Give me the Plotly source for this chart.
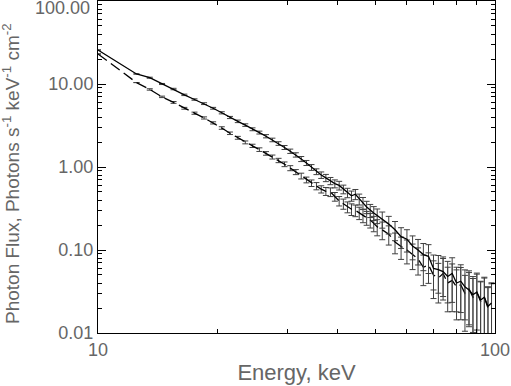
import plotly.graph_objs as graph_objs

# energy bins (keV)
energy = [10, 12.5,
          13.5, 14.5, 15.5, 16.5, 17.5, 18.5, 19.5, 20.5, 21.5, 22.5,
          23.5, 24.5, 25.5, 26.5, 27.5, 28.5, 29.5, 30.5, 31.5, 32.5,
          33.5, 34.5, 35.5, 36.5, 37.5, 38.5, 39.5, 40.5, 41.5, 42.5,
          43.5, 44.5, 45.5, 46.5, 47.5, 48.5, 49.5, 50.5,
          52, 54, 56, 58, 60, 62, 64, 66, 68, 70, 72, 74,
          76, 78, 80, 82, 84, 86, 88, 90, 92, 94, 96, 98]

# solid spectrum (photons s^-1 keV^-1 cm^-2)
flux_a = [25.7, 13.2,
          11.9, 10.0, 8.7, 7.4, 6.5, 5.8, 5.1, 4.5, 3.95, 3.55,
          3.2, 2.85, 2.6, 2.35, 2.12, 1.92, 1.72, 1.55, 1.40, 1.25,
          1.12, 0.99, 0.88, 0.80, 0.74, 0.68, 0.63, 0.60, 0.54, 0.49,
          0.45, 0.47, 0.41, 0.37, 0.33, 0.30, 0.28, 0.26,
          0.235, 0.205, 0.175, 0.145, 0.135, 0.112, 0.100, 0.088, 0.084, 0.060, 0.058, 0.055,
          0.048, 0.052, 0.040, 0.042, 0.036, 0.033, 0.029, 0.031, 0.025, 0.027, 0.021, 0.023]
err_a_pct = [0, 0,
             1.5, 1.5, 2, 2, 2, 2.5, 2.5, 3, 3, 3.5,
             3.5, 4, 4, 4.5, 5, 5, 5.5, 6, 6, 7,
             7, 8, 8, 9, 10, 10, 11, 12, 12, 13,
             14, 14, 15, 16, 17, 18, 19, 20,
             22, 24, 26, 28, 30, 32, 34, 36, 38, 45, 48, 50,
             52, 55, 55, 58, 60, 62, 65, 65, 68, 70, 72, 75]

# dashed spectrum
flux_b = [23.0, 10.4,
          8.6, 7.0, 6.0, 5.1, 4.45, 3.9, 3.4, 2.95, 2.55, 2.25,
          1.98, 1.80, 1.62, 1.46, 1.32, 1.20, 1.08, 0.97, 0.87, 0.78,
          0.70, 0.64, 0.59, 0.54, 0.51, 0.50, 0.44, 0.39, 0.36, 0.33,
          0.31, 0.30, 0.28, 0.26, 0.245, 0.23, 0.21, 0.19,
          0.175, 0.155, 0.125, 0.110, 0.100, 0.088, 0.078, 0.062, 0.066, 0.050, 0.046, 0.052,
          0.040, 0.043, 0.036, 0.038, 0.030, 0.034, 0.027, 0.031, 0.024, 0.027, 0.020, 0.022]
err_b_pct = [0, 0,
             2, 2, 2.5, 2.5, 3, 3, 3, 3.5, 3.5, 4,
             4, 4.5, 5, 5, 5.5, 6, 6.5, 7, 7, 8,
             8, 9, 10, 10, 11, 12, 12, 13, 14, 15,
             16, 16, 17, 18, 19, 20, 21, 22,
             24, 26, 28, 30, 32, 34, 36, 40, 40, 48, 50, 52,
             55, 58, 60, 62, 65, 65, 68, 70, 72, 74, 76, 78]

fig = graph_objs.Figure()

for flux, err_pct, dash in [(flux_b, err_b_pct, "11px,5px"), (flux_a, err_a_pct, "solid")]:
    err = [f * p / 100.0 for f, p in zip(flux, err_pct)]
    fig.add_trace(graph_objs.Scatter(
        x=energy, y=flux, mode="lines",
        line=dict(color="black", width=1.3, dash=dash),
        error_y=dict(type="data", array=err, visible=True,
                     color="#404040", thickness=1, width=3),
        showlegend=False,
    ))

x_minor = [v * 10 for v in range(2, 10)]
y_minor = [m * 10 ** d for d in range(-2, 2) for m in range(2, 10)]

font = dict(family="Liberation Sans", size=18, color="#666666")

fig.update_layout(
    width=511, height=386,
    margin=dict(l=98, r=16, t=1, b=53),
    plot_bgcolor="white", paper_bgcolor="white",
    font=font,
    xaxis=dict(
        type="log", range=[1, 2], automargin=False,
        tickmode="array", tickvals=[10, 100], ticktext=["10", "100"],
        ticks="inside", ticklen=8, tickcolor="black",
        minor=dict(tickmode="array", tickvals=x_minor, ticks="inside",
                   ticklen=4, tickcolor="black", showgrid=False),
        showline=True, linecolor="black", linewidth=1, mirror="ticks",
        showgrid=False, zeroline=False,
        title=dict(text="Energy, keV", standoff=6),
    ),
    yaxis=dict(
        type="log", range=[-2, 2], automargin=False,
        tickmode="array", tickvals=[0.01, 0.1, 1, 10, 100],
        ticktext=["0.01", "0.10", "1.00", "10.00", ""],
        ticks="inside", ticklen=8, tickcolor="black",
        minor=dict(tickmode="array", tickvals=y_minor, ticks="inside",
                   ticklen=4, tickcolor="black", showgrid=False),
        showline=True, linecolor="black", linewidth=1, mirror="ticks",
        showgrid=False, zeroline=False,
    ),
    annotations=[
        # top tick label sits just below the frame, as in the original
        dict(text="100.00", xref="paper", yref="y", x=0, y=2,
             xanchor="right", yanchor="middle", xshift=-6, yshift=-7,
             showarrow=False, font=font),
        # y axis title, set by hand so it sits at the left edge
        dict(text="Photon Flux, Photons s<sup>-1</sup> keV<sup>-1</sup> cm<sup>-2</sup>",
             xref="paper", yref="paper", x=0, y=0.5, xanchor="center", yanchor="middle",
             xshift=-87, yshift=-7, textangle=-90, showarrow=False,
             font=dict(family="Liberation Sans", size=19, color="#666666")),
    ],
)

# drop the default page margin so the figure starts at the window corner
fig.write_html("out.html", config={"displayModeBar": False},
               post_script="document.body.style.margin='0';")
